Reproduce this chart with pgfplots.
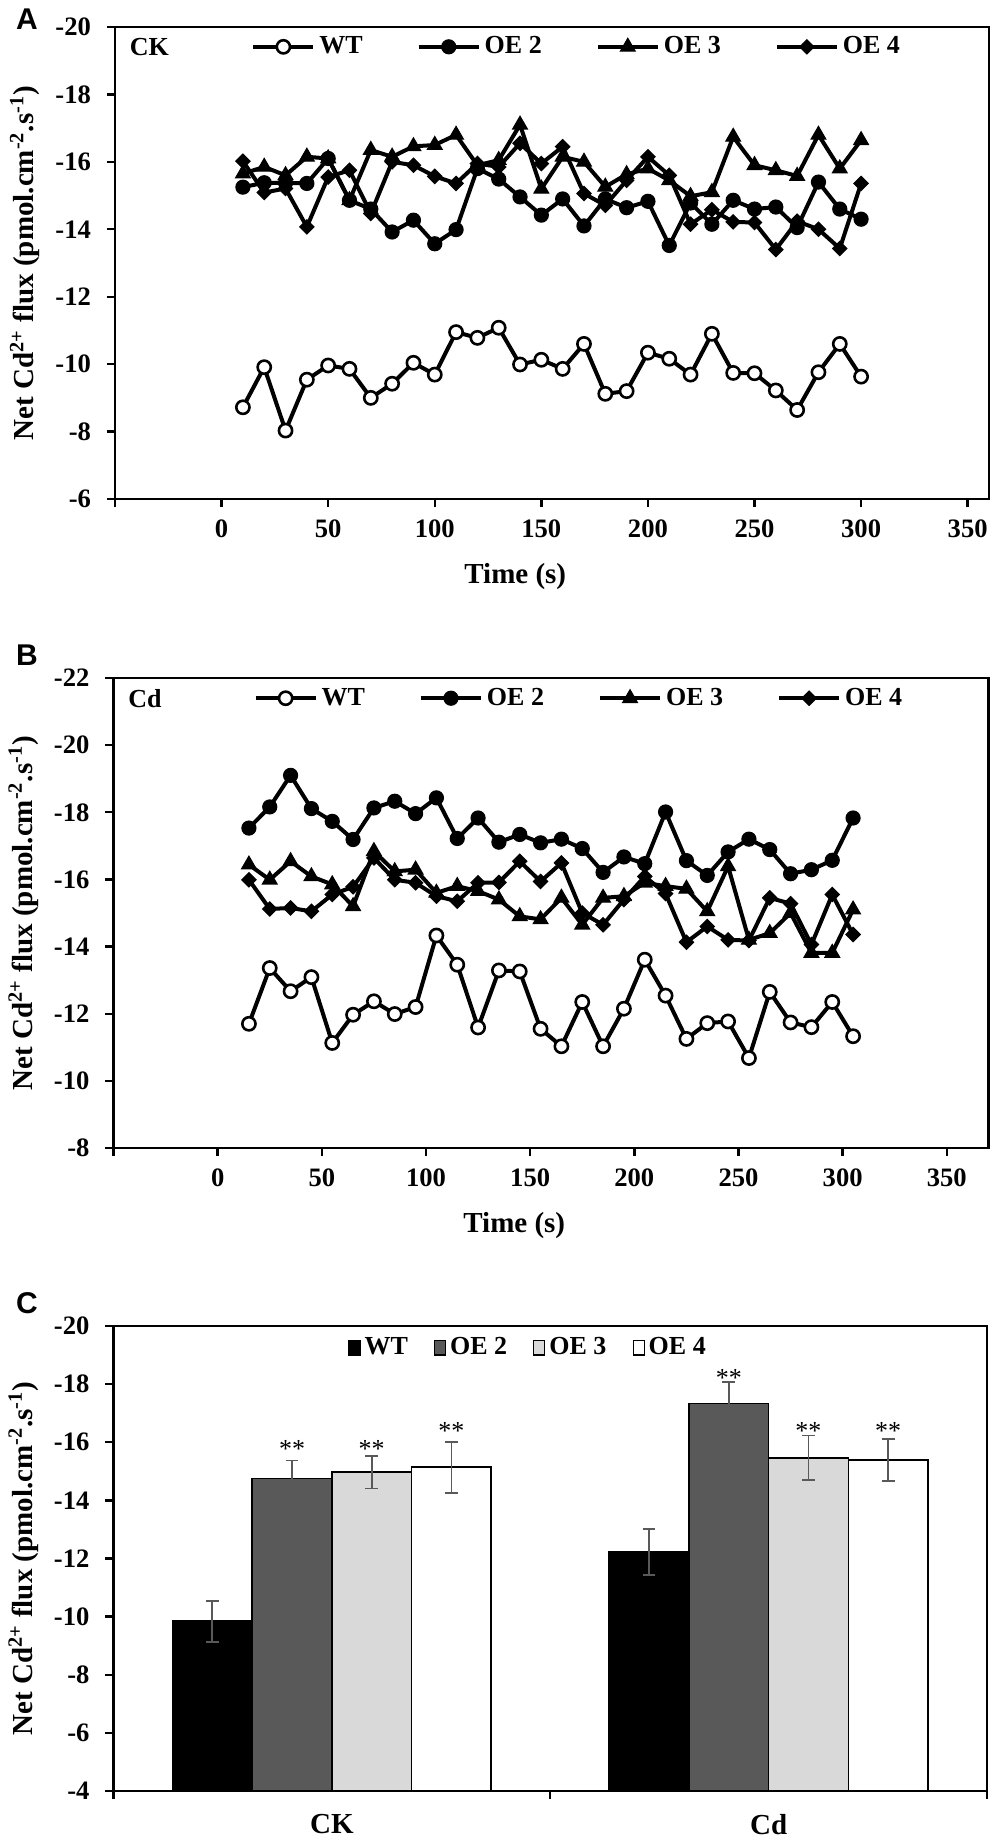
\documentclass[border=0pt]{standalone}
\usepackage{fontspec}
\setmainfont{Liberation Serif}
\newfontfamily\arialfont{Liberation Sans}
\usepackage{pgfplots}
\pgfplotsset{compat=1.18}

\newcommand\tickfont{\bfseries\fontsize{13.3}{15}\selectfont}
\newcommand\labfont{\bfseries\fontsize{14.5}{16}\selectfont}
\newcommand\legfont{\bfseries\fontsize{13}{15}\selectfont}

\pgfplotsset{
  fluxaxis/.style={
    scale only axis,
    y dir=reverse,
    clip=false,
    axis line style={line width=1.4pt},
    tick style={line width=1.2pt, black},
    tick align=outside,
    major tick length=4pt,
    xtick pos=left, ytick pos=left,
    tick label style={font=\tickfont},
    xticklabel style={yshift=-3pt},
    yticklabel style={xshift=-4.5pt},
    every axis y label/.style={at={(axis description cs:-0.103,0.5)}, rotate=90, anchor=center, font=\labfont},
    every axis x label/.style={at={(axis description cs:0.458,-0.165)}, anchor=center, font=\labfont},
    ylabel={Net Cd\textsuperscript{2+} flux (pmol.cm\textsuperscript{-2}.s\textsuperscript{-1})},
    xlabel={Time (s)},
    legend columns=4,
    legend cell align=left,
    legend style={draw=none, fill=none, inner sep=0pt, font=\legfont,
      /tikz/every even column/.append style={column sep=25pt}},
    legend image code/.code={\draw[mark repeat=2,mark phase=2,#1] plot coordinates {(0pt,0pt) (15pt,0pt) (30pt,0pt)};},
  },
  wt/.style={black, line width=2pt, mark=*, mark size=3.3pt, mark options={fill=white, draw=black, line width=1.3pt}},
  oe2/.style={black, line width=2pt, mark=*, mark size=3.5pt, mark options={fill=black, line width=0.6pt}},
  oe3/.style={black, line width=2pt, mark=triangle*, mark size=4.2pt, mark options={fill=black, line width=0.6pt}},
  oe4/.style={black, line width=2pt, mark=square*, mark size=2.5pt, mark options={fill=black, line width=0.6pt, rotate=45}},
}

\begin{document}
\begin{tikzpicture}
\useasboundingbox (0,0) rectangle (500pt,-919.5pt);

% ---------------- Panel A ----------------
\node[font=\arialfont\bfseries\fontsize{15}{16}\selectfont, anchor=center] at (13.5pt,-9.5pt) {A};
\begin{axis}[fluxaxis,
  at={(57.5pt,-13.5pt)}, anchor=north west,
  width=437pt, height=236pt,
  xmin=-50, xmax=360, ymin=-20, ymax=-6,
  xtick={-50,0,50,100,150,200,250,300,350},
  xticklabels={{},0,50,100,150,200,250,300,350},
  ytick={-20,-18,-16,-14,-12,-10,-8,-6},
  yticklabels={-20,-18,-16,-14,-12,-10,-8,-6},
  legend style={at={(axis description cs:0.1556,0.958)}, anchor=west},
]
\addplot[wt] coordinates {
(10,-8.72) (20,-9.91) (30,-8.03) (40,-9.54) (50,-9.96) (60,-9.86) (70,-9.00) (80,-9.42) (90,-10.04) (100,-9.69)
(110,-10.95) (120,-10.78) (130,-11.08) (140,-9.99) (150,-10.13) (160,-9.86) (170,-10.60) (180,-9.12) (190,-9.20) (200,-10.34)
(210,-10.16) (220,-9.69) (230,-10.90) (240,-9.74) (250,-9.73) (260,-9.22) (270,-8.64) (280,-9.76) (290,-10.60) (300,-9.63)};
\addlegendentry{WT}
\addplot[oe2] coordinates {
(10,-15.25) (20,-15.38) (30,-15.38) (40,-15.36) (50,-16.10) (60,-14.86) (70,-14.60) (80,-13.92) (90,-14.27) (100,-13.57)
(110,-13.99) (120,-15.80) (130,-15.49) (140,-14.96) (150,-14.42) (160,-14.90) (170,-14.10) (180,-14.90) (190,-14.64) (200,-14.83)
(210,-13.52) (220,-14.78) (230,-14.15) (240,-14.86) (250,-14.60) (260,-14.66) (270,-14.05) (280,-15.40) (290,-14.60) (300,-14.30)};
\addlegendentry{OE 2}
\addplot[oe3] coordinates {
(10,-15.65) (20,-15.85) (30,-15.60) (40,-16.15) (50,-16.10) (60,-14.86) (70,-16.35) (80,-16.15) (90,-16.46) (100,-16.50)
(110,-16.80) (120,-15.90) (130,-16.05) (140,-17.10) (150,-15.20) (160,-16.15) (170,-16.00) (180,-15.26) (190,-15.63) (200,-15.80)
(210,-15.45) (220,-14.98) (230,-15.10) (240,-16.74) (250,-15.90) (260,-15.75) (270,-15.58) (280,-16.80) (290,-15.80) (300,-16.64)};
\addlegendentry{OE 3}
\addplot[oe4] coordinates {
(10,-16.02) (20,-15.09) (30,-15.21) (40,-14.07) (50,-15.55) (60,-15.75) (70,-14.47) (80,-16.00) (90,-15.90) (100,-15.57)
(110,-15.36) (120,-15.95) (130,-15.85) (140,-16.55) (150,-15.95) (160,-16.45) (170,-15.06) (180,-14.71) (190,-15.45) (200,-16.15)
(210,-15.60) (220,-14.15) (230,-14.58) (240,-14.22) (250,-14.20) (260,-13.40) (270,-14.24) (280,-14.00) (290,-13.43) (300,-15.36)};
\addlegendentry{OE 4}
\node[anchor=west, font=\legfont] at (axis description cs:0.009,0.958) {CK};
\end{axis}

% ---------------- Panel B ----------------
\node[font=\arialfont\bfseries\fontsize{15}{16}\selectfont, anchor=center] at (13.5pt,-327.5pt) {B};
\begin{axis}[fluxaxis,
  at={(56.75pt,-339pt)}, anchor=north west,
  width=437.5pt, height=235pt,
  xmin=-50, xmax=370, ymin=-22, ymax=-8,
  xtick={-50,0,50,100,150,200,250,300,350},
  xticklabels={{},0,50,100,150,200,250,300,350},
  ytick={-22,-20,-18,-16,-14,-12,-10,-8},
  yticklabels={-22,-20,-18,-16,-14,-12,-10,-8},
  legend style={at={(axis description cs:0.1597,0.957)}, anchor=west},
]
\addplot[wt] coordinates {
(15,-11.70) (25,-13.36) (35,-12.67) (45,-13.09) (55,-11.13) (65,-11.97) (75,-12.37) (85,-11.99) (95,-12.20) (105,-14.33)
(115,-13.46) (125,-11.59) (135,-13.29) (145,-13.26) (155,-11.55) (165,-11.03) (175,-12.35) (185,-11.03) (195,-12.15) (205,-13.61)
(215,-12.54) (225,-11.25) (235,-11.72) (245,-11.77) (255,-10.68) (265,-12.65) (275,-11.74) (285,-11.60) (295,-12.35) (305,-11.33)};
\addlegendentry{WT}
\addplot[oe2] coordinates {
(15,-17.53) (25,-18.16) (35,-19.10) (45,-18.11) (55,-17.73) (65,-17.19) (75,-18.13) (85,-18.33) (95,-17.96) (105,-18.43)
(115,-17.22) (125,-17.83) (135,-17.11) (145,-17.34) (155,-17.09) (165,-17.20) (175,-16.92) (185,-16.21) (195,-16.67) (205,-16.47)
(215,-18.01) (225,-16.56) (235,-16.12) (245,-16.82) (255,-17.20) (265,-16.89) (275,-16.17) (285,-16.29) (295,-16.57) (305,-17.83)};
\addlegendentry{OE 2}
\addplot[oe3] coordinates {
(15,-16.44) (25,-15.99) (35,-16.54) (45,-16.09) (55,-15.85) (65,-15.20) (75,-16.84) (85,-16.24) (95,-16.29) (105,-15.60)
(115,-15.80) (125,-15.65) (135,-15.40) (145,-14.90) (155,-14.81) (165,-15.45) (175,-14.65) (185,-15.45) (195,-15.50) (205,-15.90)
(215,-15.80) (225,-15.72) (235,-15.05) (245,-16.39) (255,-14.20) (265,-14.40) (275,-15.00) (285,-13.81) (295,-13.81) (305,-15.10)};
\addlegendentry{OE 3}
\addplot[oe4] coordinates {
(15,-15.99) (25,-15.12) (35,-15.15) (45,-15.05) (55,-15.55) (65,-15.78) (75,-16.64) (85,-15.99) (95,-15.90) (105,-15.50)
(115,-15.35) (125,-15.90) (135,-15.91) (145,-16.54) (155,-15.94) (165,-16.49) (175,-15.00) (185,-14.65) (195,-15.40) (205,-16.09)
(215,-15.58) (225,-14.13) (235,-14.60) (245,-14.20) (255,-14.18) (265,-15.45) (275,-15.28) (285,-14.06) (295,-15.55) (305,-14.36)};
\addlegendentry{OE 4}
\node[anchor=west, font=\legfont] at (axis description cs:0.009,0.957) {Cd};
\end{axis}

% ---------------- Panel C ----------------
\node[font=\arialfont\bfseries\fontsize{15}{16}\selectfont, anchor=center] at (13.5pt,-651.5pt) {C};
\begin{axis}[fluxaxis,
  at={(56.75pt,-663pt)}, anchor=north west,
  width=436.75pt, height=232.5pt,
  clip=true,
  xmin=-0.5, xmax=1.5, ymin=-20, ymax=-4,
  xlabel={},
  xtick={0,1}, xticklabels={CK,Cd},
  minor xtick={-0.5,0.5,1.5},
  major x tick style={draw=none},
  minor x tick style={line width=1.2pt, black},
  minor tick length=4pt,
  xticklabel style={font=\labfont, yshift=-1pt},
  ytick={-20,-18,-16,-14,-12,-10,-8,-6,-4},
  yticklabels={-20,-18,-16,-14,-12,-10,-8,-6,-4},
  legend columns=4,
  legend style={at={(axis description cs:0.2685,0.953)}, anchor=west,
     /tikz/every even column/.append style={column sep=11pt}},
  legend image code/.code={\draw[#1, line width=0.6pt] (0pt,-3.6pt) rectangle (5.5pt,3.6pt);},
  error bars/y dir=both, error bars/y explicit,
  error bars/error bar style={line width=0.9pt, color=black!65},
  error bars/error mark options={line width=0.9pt, color=black!65, mark size=3.2pt, rotate=90},
]
\addplot[ybar, bar width=0.1825, bar shift=0, fill=black, draw=black, line width=0.8pt]
  coordinates {(-0.27375,-9.84) +- (0,0.70) (0.72625,-12.22) +- (0,0.80)};
\addlegendentry{WT}
\addplot[ybar, bar width=0.1825, bar shift=0, fill=black!65, draw=black, line width=0.8pt]
  coordinates {(-0.09125,-14.75) +- (0,0.62) (0.90875,-17.33) +- (0,0.74)};
\addlegendentry{OE 2}
\addplot[ybar, bar width=0.1825, bar shift=0, fill=black!15, draw=black, line width=0.8pt]
  coordinates {(0.09125,-14.97) +- (0,0.56) (1.09125,-15.46) +- (0,0.77)};
\addlegendentry{OE 3}
\addplot[ybar, bar width=0.1825, bar shift=0, fill=white, draw=black, line width=0.8pt]
  coordinates {(0.27375,-15.14) +- (0,0.88) (1.27375,-15.39) +- (0,0.72)};
\addlegendentry{OE 4}
\addplot[draw=none, mark=none, forget plot, nodes near coords={**},
  every node near coord/.style={anchor=center, yshift=-2pt, font=\fontsize{13}{13}\selectfont}]
  coordinates {(-0.09125,-15.9) (0.09125,-15.9) (0.27375,-16.53) (0.90875,-18.36) (1.09125,-16.53) (1.27375,-16.53)};
\end{axis}
\end{tikzpicture}
\end{document}
